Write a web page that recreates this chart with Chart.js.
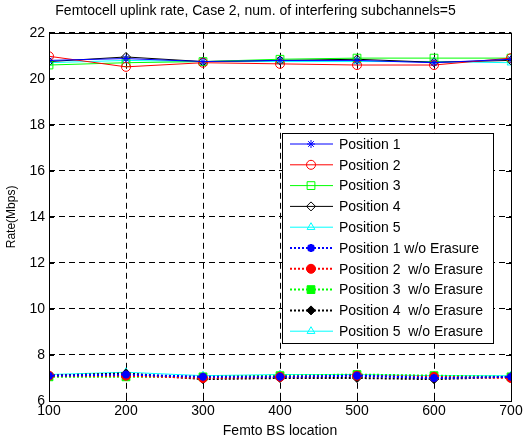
<!DOCTYPE html>
<html>
<head>
<meta charset="utf-8">
<script src="https://cdn.jsdelivr.net/npm/chart.js@4/dist/chart.umd.min.js"></script>
<style>
  body { margin: 0; background: #fff; }
  #wrap { width: 530px; height: 440px; }
</style>
</head>
<body>
<div id="wrap"><canvas id="rateChart" width="530" height="440"></canvas></div>
<script>
// Data
const lokasi = [100, 200, 300, 400, 500, 600, 700];

const pos1 = [20.80, 20.88, 20.75, 20.80, 20.80, 20.70, 20.85];
const pos2 = [20.98, 20.52, 20.70, 20.65, 20.60, 20.60, 20.90];
const pos3 = [20.60, 20.70, 20.75, 20.85, 20.90, 20.90, 20.90];
const pos4 = [20.75, 20.95, 20.75, 20.80, 20.85, 20.72, 20.80];
const pos5 = [20.70, 20.80, 20.75, 20.75, 20.75, 20.75, 20.70];

const pos1NoErasure = [7.10, 7.15, 7.05, 7.05, 7.10, 7.00, 7.05];
const pos2NoErasure = [7.10, 7.10, 7.00, 7.05, 7.10, 7.05, 7.00];
const pos3NoErasure = [7.05, 7.05, 7.05, 7.10, 7.15, 7.10, 7.05];
const pos4NoErasure = [7.10, 7.20, 6.95, 7.00, 7.00, 6.95, 7.05];
const pos5NoErasure = [7.15, 7.25, 7.10, 7.15, 7.15, 7.10, 7.10];

const labelSeri = [
  'Position 1', 'Position 2', 'Position 3', 'Position 4', 'Position 5',
  'Position 1 w/o Erasure', 'Position 2  w/o Erasure', 'Position 3  w/o Erasure',
  'Position 4  w/o Erasure', 'Position 5  w/o Erasure'
];
const yTickMin = 6, yTickMax = 22, yTickStep = 2;

const FONT = 'Liberation Sans, Arial, sans-serif';

function toXY(vals) {
  return vals.map((v, i) => ({ x: lokasi[i], y: v }));
}

// Siapkan dataset
function seri(label, vals, color, style, radius, filled, dotted, lw) {
  return {
    label: label,
    data: toXY(vals),
    borderColor: color,
    backgroundColor: filled ? color : 'rgba(0,0,0,0)',
    borderWidth: lw,
    borderDash: dotted ? [2, 2] : [],
    pointStyle: style,
    pointRadius: radius,
    pointBorderColor: color,
    pointBackgroundColor: filled ? color : 'rgba(0,0,0,0)',
    pointBorderWidth: filled && style === 'star' ? 2.5 : 1,
    tension: 0,
    fill: false
  };
}

const datasets = [
  seri(labelSeri[0], pos1, '#0000ff', 'star', 4, false, false, 1),
  seri(labelSeri[1], pos2, '#ff0000', 'circle', 4.5, false, false, 1),
  seri(labelSeri[2], pos3, '#00ff00', 'rect', 5.5, false, false, 1),
  seri(labelSeri[3], pos4, '#000000', 'rectRot', 4.5, false, false, 1),
  seri(labelSeri[4], pos5, '#00ffff', 'triangle', 4.5, false, false, 1),
  seri(labelSeri[5], pos1NoErasure, '#0000ff', 'star', 4, true, true, 2),
  seri(labelSeri[6], pos2NoErasure, '#ff0000', 'circle', 4.5, true, true, 2),
  seri(labelSeri[7], pos3NoErasure, '#00ff00', 'rect', 5.5, true, true, 2),
  seri(labelSeri[8], pos4NoErasure, '#000000', 'rectRot', 4.5, true, true, 2),
  seri(labelSeri[9], pos5NoErasure, '#00ffff', 'triangle', 4.5, false, false, 1)
];

// Kotak sumbu + tick ke dalam (gaya MATLAB)
const boxPlugin = {
  id: 'boxPlugin',
  afterDatasetsDraw(chart) {
    const { ctx, chartArea: a, scales } = chart;
    ctx.save();
    ctx.strokeStyle = '#000';
    ctx.lineWidth = 1;
    ctx.setLineDash([]);
    ctx.strokeRect(Math.round(a.left) + 0.5, Math.round(a.top) + 0.5,
      Math.round(a.right - a.left), Math.round(a.bottom - a.top));
    const t = 5;
    ctx.beginPath();
    scales.x.ticks.forEach(tk => {
      const px = Math.round(scales.x.getPixelForValue(tk.value)) + 0.5;
      ctx.moveTo(px, a.bottom); ctx.lineTo(px, a.bottom - t);
      ctx.moveTo(px, a.top); ctx.lineTo(px, a.top + t);
    });
    scales.y.ticks.forEach(tk => {
      const py = Math.round(scales.y.getPixelForValue(tk.value)) + 0.5;
      ctx.moveTo(a.left, py); ctx.lineTo(a.left + t, py);
      ctx.moveTo(a.right, py); ctx.lineTo(a.right - t, py);
    });
    ctx.stroke();
    ctx.restore();
  }
};

// Legenda di dalam area plot
const legendPlugin = {
  id: 'legendPlugin',
  afterDraw(chart) {
    const { ctx, chartArea: a } = chart;
    const ds = chart.data.datasets;
    const boxRight = a.right - 18, boxBottom = a.bottom - 58;
    const boxW = 211, rowH = 20.8;
    const boxH = ds.length * rowH + 2;
    const boxLeft = boxRight - boxW, boxTop = boxBottom - boxH;
    ctx.save();
    ctx.fillStyle = '#fff';
    ctx.fillRect(boxLeft, boxTop, boxW, boxH);
    ctx.strokeStyle = '#000';
    ctx.lineWidth = 1;
    ctx.strokeRect(Math.round(boxLeft) + 0.5, Math.round(boxTop) + 0.5, Math.round(boxW), Math.round(boxH));
    ctx.font = '14px ' + FONT;
    ctx.textBaseline = 'middle';
    ds.forEach((d, i) => {
      const cy = boxTop + 11 + i * rowH;
      const x1 = boxLeft + 8, x2 = boxLeft + 51, mx = boxLeft + 29;
      ctx.save();
      ctx.strokeStyle = d.borderColor;
      ctx.lineWidth = d.borderWidth;
      ctx.setLineDash(d.borderDash);
      ctx.beginPath();
      ctx.moveTo(x1, cy); ctx.lineTo(x2, cy);
      ctx.stroke();
      ctx.setLineDash([]);
      ctx.fillStyle = d.pointBackgroundColor;
      ctx.strokeStyle = d.pointBorderColor;
      ctx.lineWidth = d.pointBorderWidth;
      Chart.helpers.drawPoint(ctx, { pointStyle: d.pointStyle, radius: d.pointRadius, rotation: 0, borderWidth: d.pointBorderWidth }, mx, cy);
      ctx.restore();
      ctx.fillStyle = '#000';
      ctx.fillText(d.label, boxLeft + 57, cy + 1);
    });
    ctx.restore();
  }
};

const config = {
  type: 'line',
  data: { datasets: datasets },
  options: {
    responsive: false,
    animation: false,
    layout: { padding: { right: 19, top: 0, left: 0, bottom: 0 } },
    plugins: {
      legend: { display: false },
      tooltip: { enabled: false },
      title: {
        display: true,
        text: 'Femtocell uplink rate, Case 2, num. of interfering subchannels=5',
        color: '#000',
        font: { family: FONT, size: 14, weight: 'normal' },
        padding: { top: 3, bottom: 13 }
      }
    },
    scales: {
      x: {
        type: 'linear',
        min: lokasi[0],
        max: lokasi[lokasi.length - 1],
        afterFit: s => { s.height = 39; },
        ticks: { stepSize: 100, color: '#000', font: { family: FONT, size: 14 }, padding: 2, maxRotation: 0 },
        grid: { color: '#000', drawTicks: false, lineWidth: 1 },
        border: { display: false, dash: [6, 4] },
        title: { display: true, text: 'Femto BS location', color: '#000', font: { family: FONT, size: 14 }, padding: { top: 0, bottom: 0 } }
      },
      y: {
        min: yTickMin,
        max: yTickMax,
        afterFit: s => { s.width = 49; },
        ticks: { stepSize: yTickStep, color: '#000', font: { family: FONT, size: 14 }, padding: 4 },
        grid: { color: '#000', drawTicks: false, lineWidth: 1 },
        border: { display: false, dash: [6, 4] },
        title: { display: true, text: 'Rate(Mbps)', color: '#000', font: { family: FONT, size: 12 }, padding: { top: 4, bottom: 0 } }
      }
    }
  },
  plugins: [boxPlugin, legendPlugin]
};

const rateCtx = document.getElementById('rateChart').getContext('2d');
new Chart(rateCtx, config);
</script>
</body>
</html>
